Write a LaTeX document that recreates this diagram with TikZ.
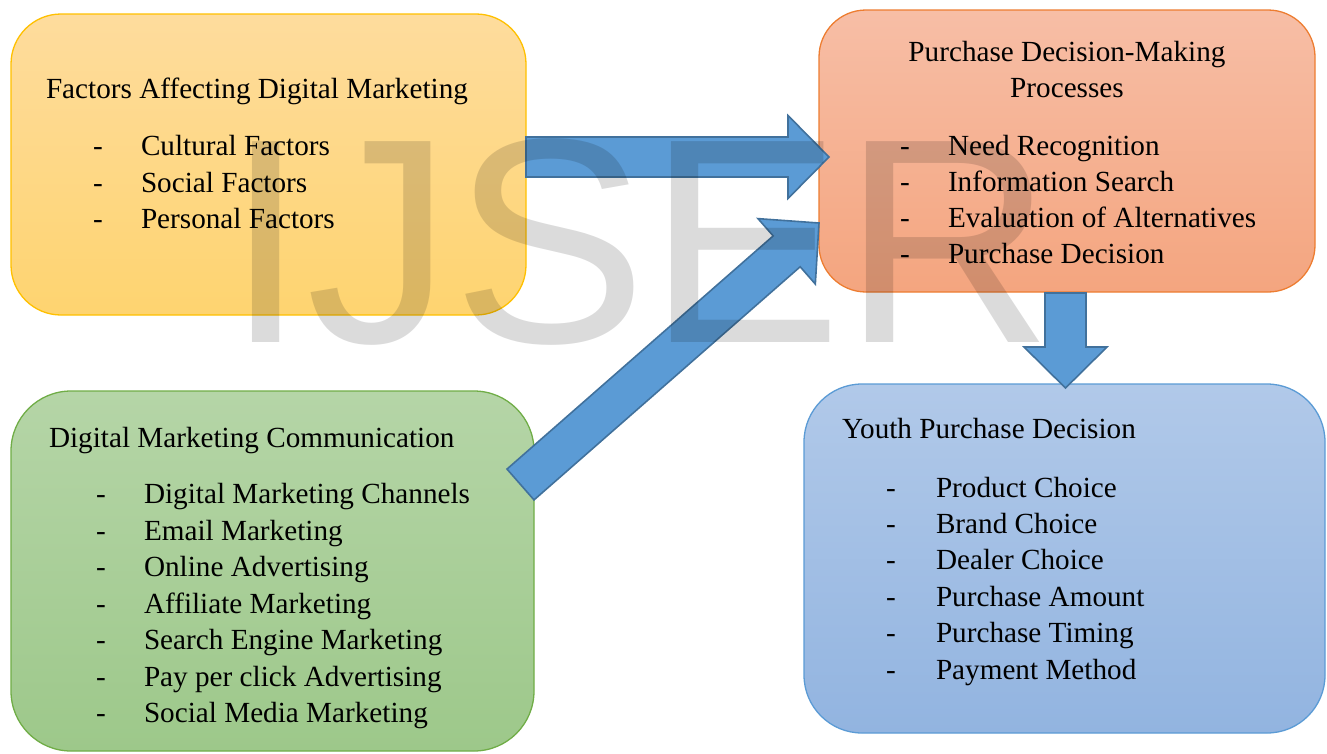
\documentclass[tikz,border=0pt]{standalone}
\usepackage{fontspec}
\setmainfont{Liberation Serif}
\newfontfamily\wmfont{Liberation Sans}
\usetikzlibrary{calc}

\definecolor{arrowfill}{HTML}{5B9BD5}
\definecolor{arrowline}{HTML}{41719C}
\definecolor{ylwtop}{HTML}{FEDC9D}
\definecolor{ylwbot}{HTML}{FED470}
\definecolor{ylwline}{HTML}{FFC000}
\definecolor{orgtop}{HTML}{F7BEA6}
\definecolor{orgbot}{HTML}{F4A57F}
\definecolor{orgline}{HTML}{ED7D31}
\definecolor{grntop}{HTML}{B5D5A7}
\definecolor{grnbot}{HTML}{9DC88A}
\definecolor{grnline}{HTML}{70AD47}
\definecolor{blutop}{HTML}{B1C9E9}
\definecolor{blubot}{HTML}{92B4E0}
\definecolor{bluline}{HTML}{5B9BD5}

% block arrow from #1 to #2: shaft half width #3, head half width #4, head length #5
\newcommand\blockarrow[6]{%
  \coordinate (#6h) at ($(#2)!#5!(#1)$);
  \draw[blockarrowstyle]
    ($(#1)!#3!90:(#2)$) -- ($(#6h)!#3!90:(#2)$) -- ($(#6h)!#4!90:(#2)$) --
    (#2) --
    ($(#6h)!#4!-90:(#2)$) -- ($(#6h)!#3!-90:(#2)$) -- ($(#1)!#3!-90:(#2)$) -- cycle;
}

\begin{document}
\begin{tikzpicture}[x=1pt,y=-1pt,
  box/.style={draw, line width=1.3pt, inner sep=0pt, outer sep=0pt},
  blockarrowstyle/.style={fill=arrowfill, draw=arrowline, line width=1.6pt, line join=miter},
  txt/.style={anchor=base west, inner sep=0pt, outer sep=0pt, font=\fontsize{29.2}{36.5}\selectfont},
  bullet/.style={txt}]
\useasboundingbox (0,0) rectangle (1327,753);

% the four rounded boxes
\node[box, draw=ylwline, top color=ylwtop, bottom color=ylwbot, rounded corners=50pt,
      minimum width=515pt, minimum height=301pt] (fac) at (268.5,164.5) {};
\node[box, draw=orgline, top color=orgtop, bottom color=orgbot, rounded corners=47pt,
      minimum width=496pt, minimum height=282pt] (pdm) at (1067,151) {};
\node[box, draw=grnline, top color=grntop, bottom color=grnbot, rounded corners=60pt,
      minimum width=523pt, minimum height=360pt] (dmc) at (272.5,571) {};
\node[box, draw=bluline, top color=blutop, bottom color=blubot, rounded corners=58pt,
      minimum width=521pt, minimum height=349pt] (ypd) at (1064.5,558.5) {};

% block arrows between the boxes
\coordinate (a1s) at (526,157);
\coordinate (a1e) at (829,157);
\coordinate (a2s) at (520.5,484.5);
\coordinate (a2e) at (819,223);
\coordinate (a3s) at (1065.5,293);
\coordinate (a3e) at (1065.5,388);
\blockarrow{a1s}{a1e}{20pt}{41.5pt}{41pt}{a1}
\blockarrow{a2s}{a2e}{20.5pt}{43.5pt}{43pt}{a2}
\blockarrow{a3s}{a3e}{20.5pt}{41.5pt}{41pt}{a3}

% Factors Affecting Digital Marketing
\node[txt] (facT) at (46,98.5) {Factors Affecting Digital Marketing};
\foreach \t [count=\i from 0] in {Cultural Factors, Social Factors, Personal Factors}{
  \node[bullet] (facD\i) at (93,155.5+36.5*\i) {-};
  \node[txt] (facI\i) at (141,155.5+36.5*\i) {\t};
}

% Purchase Decision-Making Processes (two centred title lines)
\node[txt, anchor=base] (pdmT1) at (1067,61) {Purchase Decision-Making};
\node[txt, anchor=base] (pdmT2) at (1067,97.5) {Processes};
\foreach \t [count=\i from 0] in {Need Recognition, Information Search, Evaluation of Alternatives, Purchase Decision}{
  \node[bullet] (pdmD\i) at (900,155+36.3*\i) {-};
  \node[txt] (pdmI\i) at (948,155+36.3*\i) {\t};
}

% Digital Marketing Communication
\node[txt] (dmcT) at (49,447) {Digital Marketing Communication};
\foreach \t [count=\i from 0] in {Digital Marketing Channels, Email Marketing, Online Advertising,
    Affiliate Marketing, Search Engine Marketing, Pay per click Advertising, Social Media Marketing}{
  \node[bullet] (dmcD\i) at (96,503.5+36.5*\i) {-};
  \node[txt] (dmcI\i) at (144,503.5+36.5*\i) {\t};
}

% Youth Purchase Decision
\node[txt] (ypdT) at (842,438.5) {Youth Purchase Decision};
\foreach \t [count=\i from 0] in {Product Choice, Brand Choice, Dealer Choice,
    Purchase Amount, Purchase Timing, Payment Method}{
  \node[bullet] (ypdD\i) at (886,497+36.4*\i) {-};
  \node[txt] (ypdI\i) at (936,497+36.4*\i) {\t};
}

% watermark across the page
\node[anchor=base west, inner sep=0pt, text=black, text opacity=0.14,
      font=\wmfont\fontsize{292}{292}\selectfont] (wm) at (225.5,342) {IJSER};
\end{tikzpicture}
\end{document}
